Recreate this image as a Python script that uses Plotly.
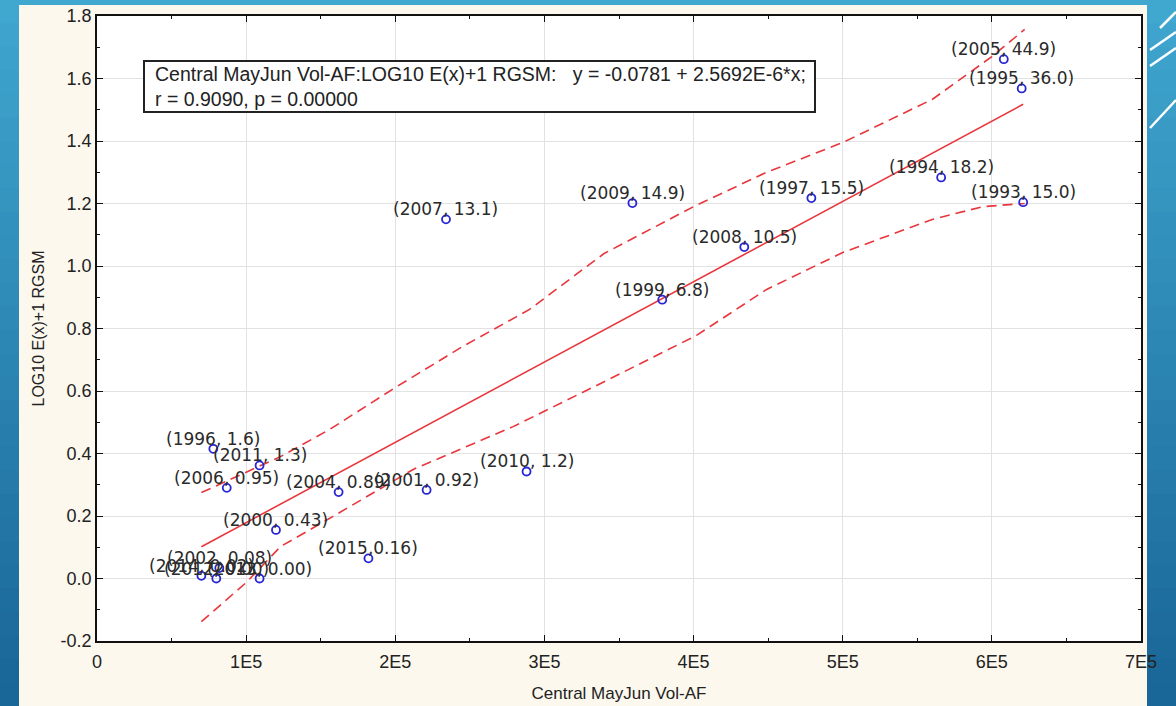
import numpy as np
import plotly.graph_objects as go

# ---- data -------------------------------------------------------------
years = [2005, 1995, 1994, 1993, 1997, 2009, 2007, 2008, 1999, 1996, 2011,
         2006, 2004, 2001, 2010, 2000, 2015, 2002, 2014, 2012, 2013]
vol_af = [6.08e5, 6.20e5, 5.66e5, 6.21e5, 4.79e5, 3.59e5, 2.34e5, 4.34e5,
          3.79e5, 0.78e5, 1.09e5, 0.87e5, 1.62e5, 2.21e5, 2.88e5, 1.20e5,
          1.82e5, 0.82e5, 0.70e5, 0.80e5, 1.09e5]
rgsm = [44.9, 36.0, 18.2, 15.0, 15.5, 14.9, 13.1, 10.5, 6.8, 1.6, 1.3,
        0.95, 0.89, 0.92, 1.2, 0.43, 0.16, 0.08, 0.02, 0.00, 0.00]
point_labels = ["(2005, 44.9)", "(1995, 36.0)", "(1994, 18.2)", "(1993, 15.0)",
                "(1997, 15.5)", "(2009, 14.9)", "(2007, 13.1)", "(2008, 10.5)",
                "(1999, 6.8)", "(1996, 1.6)", "(2011, 1.3)", "(2006, 0.95)",
                "(2004, 0.89)", "(2001, 0.92)", "(2010, 1.2)", "(2000, 0.43)",
                "(2015,0.16)", "(2002, 0.08)", "(2014, 0.02)", "(2012, 0.00)",
                "(2013, 0.00)"]

# regression fit
intercept = -0.0781
slope = 2.5692e-6
r_value = 0.9090
p_value = 0.00000

# 95% confidence band
upper_x = [0.70e5, 1.23e5, 1.56e5, 2.01e5, 2.45e5, 2.90e5, 3.40e5, 4.00e5,
           4.49e5, 5.00e5, 5.60e5, 6.00e5, 6.22e5]
upper_y = [0.275, 0.39, 0.477, 0.614, 0.742, 0.861, 1.04, 1.19, 1.30, 1.395,
           1.533, 1.67, 1.757]
lower_x = [0.70e5, 1.00e5, 1.23e5, 1.58e5, 2.12e5, 2.79e5, 3.36e5, 4.02e5,
           4.49e5, 5.00e5, 5.60e5, 5.94e5, 6.22e5]
lower_y = [-0.138, -0.013, 0.102, 0.198, 0.349, 0.486, 0.62, 0.778, 0.925,
           1.043, 1.149, 1.19, 1.20]

x_tick_vals = [0, 1e5, 2e5, 3e5, 4e5, 5e5, 6e5, 7e5]
x_tick_text = ["0", "1E5", "2E5", "3E5", "4E5", "5E5", "6E5", "7E5"]
y_tick_vals = [-0.2, 0.0, 0.2, 0.4, 0.6, 0.8, 1.0, 1.2, 1.4, 1.6, 1.8]
y_tick_text = ["-0.2", "0.0", "0.2", "0.4", "0.6", "0.8", "1.0", "1.2",
               "1.4", "1.6", "1.8"]

x_title = "Central MayJun Vol-AF"
y_title = "LOG10 E(x)+1 RGSM"

# ---- derived ----------------------------------------------------------
log_rgsm = np.log10(np.array(rgsm) + 1.0)
fit_x = np.array([min(vol_af), max(vol_af)])
fit_y = intercept + slope * fit_x

RED = "#e8363c"
BLUE = "#2626d6"

fig = go.Figure()

fig.add_trace(go.Scatter(x=upper_x, y=upper_y, mode="lines",
                         line=dict(color=RED, width=1.6, dash="10px,6px"),
                         hoverinfo="skip"))
fig.add_trace(go.Scatter(x=lower_x, y=lower_y, mode="lines",
                         line=dict(color=RED, width=1.6, dash="10px,6px"),
                         hoverinfo="skip"))
fig.add_trace(go.Scatter(x=fit_x, y=fit_y, mode="lines",
                         line=dict(color=RED, width=1.6), hoverinfo="skip"))
fig.add_trace(go.Scatter(
    x=vol_af, y=log_rgsm, mode="markers",
    marker=dict(symbol="circle-open", size=8, color=BLUE,
                line=dict(width=1.8, color=BLUE)),
    cliponaxis=False))

# ---- page decoration: blue backdrop with cream panel -------------------
L, R, T, B = 97, 35, 16, 65
W, H = 1176, 706
pw, ph = W - L - R, H - T - B


def px_x(px):
    return (px - L) / pw


def px_y(py):
    return (H - B - py) / ph


shapes = []
n_bands = 30
top_rgb = np.array([0x40, 0xa7, 0xcf])
bot_rgb = np.array([0x19, 0x66, 0x98])
for i in range(n_bands):
    f = i / (n_bands - 1)
    c = (top_rgb * (1 - f) + bot_rgb * f).astype(int)
    y0 = i * H / n_bands
    y1 = (i + 1) * H / n_bands + 1
    shapes.append(dict(type="rect", xref="paper", yref="paper",
                       x0=px_x(0), x1=px_x(W), y0=px_y(y1), y1=px_y(y0),
                       fillcolor="rgb(%d,%d,%d)" % tuple(c),
                       line=dict(width=0), layer="below"))
shapes.append(dict(type="rect", xref="paper", yref="paper",
                   x0=px_x(19), x1=px_x(1147), y0=px_y(H + 2), y1=px_y(5),
                   fillcolor="#fcf8ee", line=dict(width=0), layer="below"))
# white plotting area
shapes.append(dict(type="rect", xref="paper", yref="paper",
                   x0=0, x1=1, y0=0, y1=1,
                   fillcolor="white", line=dict(width=0), layer="below"))
for (ax, ay, bx, by) in [(1160, 28, 1176, 12), (1150, 50, 1176, 32),
                         (1150, 66, 1176, 48), (1150, 128, 1176, 100)]:
    shapes.append(dict(type="line", xref="paper", yref="paper",
                       x0=px_x(ax), y0=px_y(ay), x1=px_x(bx), y1=px_y(by),
                       line=dict(color="white", width=2.5), layer="above"))

# regression statistics box
shapes.append(dict(type="rect", xref="paper", yref="paper",
                   x0=px_x(144), x1=px_x(815), y0=px_y(112), y1=px_y(61),
                   fillcolor="white", line=dict(color="#222222", width=2),
                   layer="above"))

nb = "\u00a0"
stats_text = (f"Central MayJun Vol-AF:LOG10 E(x)+1 RGSM:{nb*3}y = {intercept:.4f} + "
              f"{slope*1e6:.4f}E-6*x;<br>r = {r_value:.4f}, p = {p_value:.5f}")

annotations = [dict(xref="paper", yref="paper", x=px_x(153), y=px_y(86.5),
                    xanchor="left", yanchor="middle", align="left",
                    showarrow=False, text=stats_text,
                    font=dict(family="Liberation Sans", size=19.5,
                              color="#222222"))]
# year / value labels sitting just above each point
for xv, yv, lab in zip(vol_af, log_rgsm, point_labels):
    annotations.append(dict(x=xv, y=yv, xref="x", yref="y", text=lab,
                            showarrow=False, xanchor="center",
                            yanchor="bottom", yshift=-2,
                            font=dict(family="DejaVu Sans", size=17,
                                      color="#2a2a2a")))

fig.update_layout(
    width=W, height=H,
    margin=dict(l=L, r=R, t=T, b=B, autoexpand=False),
    paper_bgcolor="#2b88b8",
    plot_bgcolor="white",
    showlegend=False,
    shapes=shapes,
    annotations=annotations,
    font=dict(family="Liberation Sans", color="#222222"),
)

axis_common = dict(
    showline=True, linecolor="#111111", linewidth=1.5, mirror="ticks",
    ticks="inside", ticklen=6, tickwidth=1.2, tickcolor="#111111",
    showgrid=True, gridcolor="#e2e2e2", gridwidth=1, zeroline=False,
    tickfont=dict(family="Liberation Sans", size=18, color="#222222"),
    tickmode="array",
)

fig.update_xaxes(
    range=[0, 7e5], tickvals=x_tick_vals, ticktext=x_tick_text,
    ticklabelstandoff=4,
    minor=dict(tickmode="linear", tick0=0, dtick=5e4, ticks="inside",
               ticklen=3, tickcolor="#111111", showgrid=False),
    title=dict(text=x_title, standoff=16,
               font=dict(family="Liberation Sans", size=17, color="#222222")),
    **axis_common)
fig.update_yaxes(
    range=[-0.2, 1.8], tickvals=y_tick_vals, ticktext=y_tick_text,
    minor=dict(tickmode="linear", tick0=-0.2, dtick=0.1, ticks="inside",
               ticklen=3, tickcolor="#111111", showgrid=False),
    title=dict(text=y_title, standoff=12,
               font=dict(family="Liberation Sans", size=16, color="#222222")),
    **axis_common)

fig.write_html("out.html")
